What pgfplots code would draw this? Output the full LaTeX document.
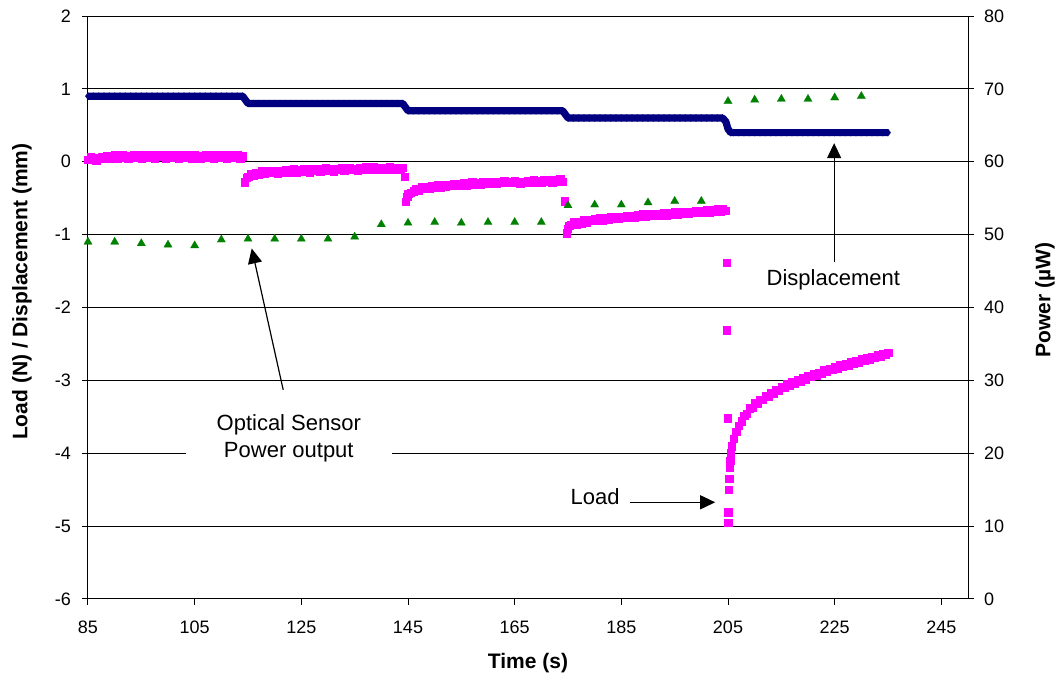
\documentclass[border=0pt]{standalone}
\usepackage{fontspec}
\setmainfont{Liberation Sans}
\usepackage{pgfplots}
\pgfplotsset{compat=1.18}
\usetikzlibrary{arrows.meta}

\definecolor{dispblue}{RGB}{0,0,128}
\definecolor{loadpink}{RGB}{255,0,255}
\definecolor{powgreen}{RGB}{0,128,0}

\tikzset{annot/.style={font=\fontsize{11}{13.35}\selectfont},
         pointer/.style={-{Triangle[length=7.5pt,width=7pt]}, line width=0.6pt, black}}

\begin{document}
\begin{tikzpicture}
\path[use as bounding box] (-44pt,-39.5pt) rectangle (486pt,299.5pt);

% Left axis: load and displacement
\begin{axis}[
  at={(0,0)}, anchor=south west,
  scale only axis, width=440pt, height=291.5pt,
  xmin=85, xmax=250, ymin=-6, ymax=2,
  xtick={85,105,...,245}, ytick={-6,-5,...,2},
  axis lines*=left,
  axis line style={black, line width=0.5pt},
  tick align=outside, major tick length=3pt,
  tick style={black, line width=0.5pt},
  ymajorgrids, grid style={black, line width=0.5pt},
  /pgf/number format/assume math mode=true,
  tick label style={font=\fontsize{9}{10}\selectfont},
  xticklabel style={yshift=-4.5pt},
  yticklabel style={xshift=-2pt},
  label style={font=\fontsize{10.5}{12}\selectfont\bfseries},
  xlabel={Time (s)},
  ylabel={Load (N) / Displacement (mm)},
  xlabel style={at={(axis description cs:0.5,-0.1098)}, anchor=center},
  ylabel style={at={(axis description cs:-0.075,0.527)}, anchor=center},
  clip=false,
]
% Displacement (mm)
\addplot[color=dispblue, line width=3.6pt, line join=round,
  mark=diamond*, mark size=1.8pt, mark options={solid, line width=0.1pt}]
coordinates {
(85,0.9)(86,0.9)(87,0.9)(88,0.9)(89,0.9)(90,0.9)(91,0.9)(92,0.9)(93,0.9)(94,0.9)
(95,0.9)(96,0.9)(97,0.9)(98,0.9)(99,0.9)(100,0.9)(101,0.9)(102,0.9)(103,0.9)(104,0.9)
(105,0.9)(106,0.9)(107,0.9)(108,0.9)(109,0.9)(110,0.9)(111,0.9)(112,0.9)(113,0.9)(114,0.9)
(114.5,0.85)
(115,0.8)(116,0.8)(117,0.8)(118,0.8)(119,0.8)(120,0.8)(121,0.8)(122,0.8)(123,0.8)(124,0.8)
(125,0.8)(126,0.8)(127,0.8)(128,0.8)(129,0.8)(130,0.8)(131,0.8)(132,0.8)(133,0.8)(134,0.8)
(135,0.8)(136,0.8)(137,0.8)(138,0.8)(139,0.8)(140,0.8)(141,0.8)(142,0.8)(143,0.8)(144,0.8)
(144.5,0.75)
(145,0.7)(146,0.7)(147,0.7)(148,0.7)(149,0.7)(150,0.7)(151,0.7)(152,0.7)(153,0.7)(154,0.7)
(155,0.7)(156,0.7)(157,0.7)(158,0.7)(159,0.7)(160,0.7)(161,0.7)(162,0.7)(163,0.7)(164,0.7)
(165,0.7)(166,0.7)(167,0.7)(168,0.7)(169,0.7)(170,0.7)(171,0.7)(172,0.7)(173,0.7)(174,0.7)
(174.5,0.65)
(175,0.6)(176,0.6)(177,0.6)(178,0.6)(179,0.6)(180,0.6)(181,0.6)(182,0.6)(183,0.6)(184,0.6)
(185,0.6)(186,0.6)(187,0.6)(188,0.6)(189,0.6)(190,0.6)(191,0.6)(192,0.6)(193,0.6)(194,0.6)
(195,0.6)(196,0.6)(197,0.6)(198,0.6)(199,0.6)(200,0.6)(201,0.6)(202,0.6)(203,0.6)(204,0.6)
(204.6,0.55)(204.8,0.5)(205,0.45)(205.5,0.4)
(206,0.4)(207,0.4)(208,0.4)(209,0.4)(210,0.4)(211,0.4)(212,0.4)(213,0.4)(214,0.4)(215,0.4)
(216,0.4)(217,0.4)(218,0.4)(219,0.4)(220,0.4)(221,0.4)(222,0.4)(223,0.4)(224,0.4)(225,0.4)
(226,0.4)(227,0.4)(228,0.4)(229,0.4)(230,0.4)(231,0.4)(232,0.4)(233,0.4)(234,0.4)(235,0.4)
};
% Load (N)
\addplot[only marks, mark=square*, mark size=1.85pt, color=loadpink,
  mark options={line width=0.1pt}]
coordinates {
(85,0.03)(85.5,0.07)(86,0.05)(86.5,0.02)(87,0.04)(87.5,0.07)(88,0.05)(88.5,0.08)(89,0.04)(89.5,0.06)
(90,0.09)(90.5,0.05)(91,0.07)(91.5,0.1)(92,0.06)(92.5,0.04)(93,0.08)(93.5,0.1)(94,0.06)(94.5,0.09)
(95,0.05)(95.5,0.08)(96,0.1)(96.5,0.06)(97,0.09)(97.5,0.05)(98,0.08)(98.5,0.1)(99,0.07)(99.5,0.05)
(100,0.09)(100.5,0.06)(101,0.1)(101.5,0.07)(102,0.05)(102.5,0.09)(103,0.06)(103.5,0.1)(104,0.08)(104.5,0.05)
(105,0.09)(105.5,0.07)(106,0.04)(106.5,0.08)(107,0.1)(107.5,0.06)(108,0.09)(108.5,0.05)(109,0.08)(109.5,0.1)
(110,0.06)(110.5,0.09)(111,0.05)(111.5,0.08)(112,0.1)(112.5,0.06)(113,0.09)(113.5,0.05)(114,0.08)
(114.4,-0.28)(114.7,-0.22)
(115,-0.2)(115.5,-0.16)(116,-0.19)(116.5,-0.15)(117,-0.17)(117.5,-0.13)(118,-0.16)(118.5,-0.14)(119,-0.12)(119.5,-0.15)
(120,-0.13)(120.5,-0.16)(121,-0.12)(121.5,-0.14)(122,-0.11)(122.5,-0.15)(123,-0.12)(123.5,-0.1)(124,-0.14)(124.5,-0.11)
(125,-0.13)(125.5,-0.1)(126,-0.12)(126.5,-0.14)(127,-0.1)(127.5,-0.12)(128,-0.09)(128.5,-0.13)(129,-0.11)(129.5,-0.08)
(130,-0.12)(130.5,-0.1)(131,-0.13)(131.5,-0.09)(132,-0.11)(132.5,-0.08)(133,-0.12)(133.5,-0.1)(134,-0.08)(134.5,-0.11)
(135,-0.09)(135.5,-0.12)(136,-0.08)(136.5,-0.1)(137,-0.07)(137.5,-0.11)(138,-0.09)(138.5,-0.07)(139,-0.1)(139.5,-0.08)
(140,-0.11)(140.5,-0.08)(141,-0.1)(141.5,-0.07)(142,-0.09)(142.5,-0.11)(143,-0.08)(143.5,-0.1)(144,-0.08)
(144.4,-0.2)
(144.6,-0.55)(144.8,-0.48)(145,-0.44)(145.5,-0.42)
(146,-0.4)(146.5,-0.37)(147,-0.39)(147.5,-0.35)(148,-0.37)(148.5,-0.34)(149,-0.36)(149.5,-0.33)(150,-0.35)(150.5,-0.32)
(151,-0.35)(151.5,-0.32)(152,-0.34)(152.5,-0.31)(153,-0.33)(153.5,-0.3)(154,-0.33)(154.5,-0.3)(155,-0.32)(155.5,-0.29)
(156,-0.32)(156.5,-0.3)(157,-0.28)(157.5,-0.31)(158,-0.29)(158.5,-0.31)(159,-0.28)(159.5,-0.3)(160,-0.27)(160.5,-0.3)
(161,-0.28)(161.5,-0.3)(162,-0.27)(162.5,-0.29)(163,-0.26)(163.5,-0.29)(164,-0.27)(164.5,-0.29)(165,-0.26)(165.5,-0.28)
(166,-0.3)(166.5,-0.27)(167,-0.29)(167.5,-0.26)(168,-0.28)(168.5,-0.25)(169,-0.28)(169.5,-0.26)(170,-0.28)(170.5,-0.25)
(171,-0.27)(171.5,-0.25)(172,-0.28)(172.5,-0.25)(173,-0.27)(173.5,-0.24)(174,-0.27)
(174.4,-0.54)
(174.7,-0.98)(174.9,-0.92)(175.2,-0.88)(175.5,-0.86)
(176,-0.83)(176.5,-0.86)(177,-0.82)(177.5,-0.84)(178,-0.8)(178.5,-0.83)(179,-0.79)(179.5,-0.81)(180,-0.78)(180.5,-0.81)
(181,-0.77)(181.5,-0.8)(182,-0.77)(182.5,-0.79)(183,-0.76)(183.5,-0.78)(184,-0.75)(184.5,-0.78)(185,-0.75)(185.5,-0.77)
(186,-0.74)(186.5,-0.77)(187,-0.74)(187.5,-0.76)(188,-0.73)(188.5,-0.75)(189,-0.72)(189.5,-0.75)(190,-0.72)(190.5,-0.74)
(191,-0.71)(191.5,-0.74)(192,-0.71)(192.5,-0.73)(193,-0.7)(193.5,-0.73)(194,-0.7)(194.5,-0.72)(195,-0.69)(195.5,-0.72)
(196,-0.69)(196.5,-0.71)(197,-0.68)(197.5,-0.71)(198,-0.68)(198.5,-0.7)(199,-0.67)(199.5,-0.7)(200,-0.67)(200.5,-0.69)
(201,-0.66)(201.5,-0.69)(202,-0.66)(202.5,-0.68)(203,-0.65)(203.5,-0.68)(204,-0.65)(204.5,-0.67)
(204.75,-1.38)(204.75,-2.31)(204.9,-3.52)(205.0,-4.95)(205.05,-4.81)(205.1,-4.5)
(205.2,-4.35)(205.3,-4.2)(205.4,-4.1)(205.5,-4.0)(205.7,-3.9)(206,-3.8)(206.5,-3.7)(207,-3.62)(207.5,-3.56)
(208,-3.48)(208.5,-3.46)(209,-3.38)(209.5,-3.37)(210,-3.31)(210.5,-3.31)(211,-3.26)(211.5,-3.26)(212,-3.21)
(212.5,-3.22)(213,-3.17)(213.5,-3.18)(214,-3.13)(214.5,-3.14)(215,-3.09)(215.5,-3.1)(216,-3.05)(216.5,-3.07)
(217,-3.02)(217.5,-3.04)(218,-2.99)(218.5,-3.01)(219,-2.96)(219.5,-2.98)(220,-2.94)(220.5,-2.95)(221,-2.91)
(221.5,-2.93)(222,-2.89)(222.5,-2.91)(223,-2.86)(223.5,-2.88)(224,-2.84)(224.5,-2.85)(225,-2.81)(225.5,-2.83)
(226,-2.79)(226.5,-2.81)(227,-2.77)(227.5,-2.79)(228,-2.75)(228.5,-2.77)(229,-2.73)(229.5,-2.75)(230,-2.71)
(230.5,-2.73)(231,-2.69)(231.5,-2.71)(232,-2.67)(232.5,-2.69)(233,-2.65)(233.5,-2.67)(234,-2.63)(234.5,-2.65)(235,-2.62)
};

% Callouts
\node[annot, fill=white, inner xsep=0pt, inner ysep=2pt, minimum width=102.9pt, align=center]
  at (axis cs:122.65,-3.795) {Optical Sensor\\Power output};
\draw[pointer] (axis cs:121.6,-3.13) -- (axis cs:115.7,-1.19);
\node[annot] at (axis cs:224.75,-1.62) {Displacement};
\draw[pointer] (axis cs:224.9,-1.37) -- (axis cs:224.9,0.255);
\node[annot] at (axis cs:180.1,-4.6) {Load};
\draw[pointer] (axis cs:186.6,-4.673) -- (axis cs:202.6,-4.673);
\end{axis}

% Right axis: optical sensor power
\begin{axis}[
  at={(0,0)}, anchor=south west,
  scale only axis, width=440pt, height=291.5pt,
  xmin=85, xmax=250, ymin=0, ymax=80,
  axis x line=none, axis y line*=right,
  axis line style={black, line width=0.5pt},
  ytick={0,10,...,80},
  tick align=outside, major tick length=3pt,
  tick style={black, line width=0.5pt},
  /pgf/number format/assume math mode=true,
  tick label style={font=\fontsize{9}{10}\selectfont},
  yticklabel style={xshift=1.5pt},
  label style={font=\fontsize{10.5}{12}\selectfont\bfseries},
  ylabel={Power (µW)},
  ylabel style={at={(axis description cs:1.0875,0.513)}, anchor=center},
  clip=false,
]
\addplot[only marks, mark=triangle*, mark size=2.4pt, color=powgreen,
  mark options={line width=0.1pt}]
coordinates {
(85,49.0)(90,49.0)(95,48.8)(100,48.6)(105,48.5)(110,49.3)(115,49.4)(120,49.4)(125,49.4)(130,49.4)
(135,49.7)(140,51.4)(145,51.6)(150,51.7)(155,51.6)(160,51.7)(165,51.7)(170,51.7)(175,54.0)(180,54.1)
(185,54.1)(190,54.4)(195,54.6)(200,54.6)(205,68.3)(210,68.5)(215,68.6)(220,68.6)(225,68.8)(230,69.0)
};
\end{axis}
\end{tikzpicture}
\end{document}
